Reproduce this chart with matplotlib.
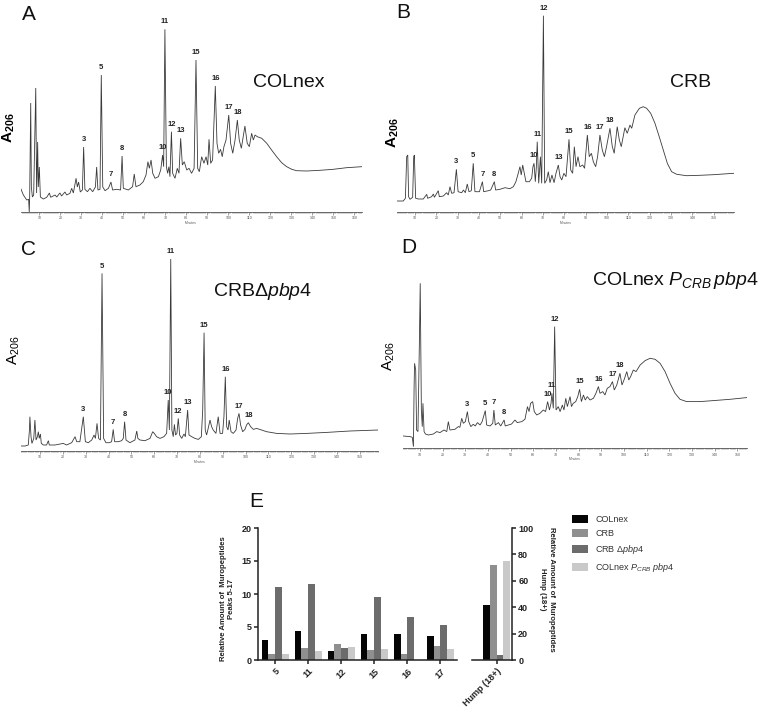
import numpy as np
import matplotlib
matplotlib.use("Agg")
import matplotlib.pyplot as plt
from matplotlib.ticker import MultipleLocator

plt.rcParams['font.family'] = ['Liberation Sans', 'DejaVu Sans']
plt.rcParams['mathtext.fontset'] = 'custom'
plt.rcParams['mathtext.rm'] = 'Liberation Sans'
plt.rcParams['mathtext.it'] = 'Liberation Sans:italic'
plt.rcParams['mathtext.bf'] = 'Liberation Sans:bold'

# ---------------- chromatogram data: (minutes, absorbance [a.u.]) ----------------
trace_a = [(1.1, 23.7), (2.4, 17), (4.0, 12), (4.9, 12.7), (5.2, 0), (5.4, 15), (5.9, 109), (6.2, 25),
           (6.7, 15), (7.3, 17), (8.3, 124), (8.7, 19), (9.2, 70), (9.5, 25), (10.0, 45), (10.5, 15),
           (11.9, 13), (13.5, 14.7), (14.8, 19), (15.4, 14.7), (17.5, 17), (18.3, 15), (19.8, 19),
           (20.6, 16), (22.2, 20), (23.0, 17), (24.6, 18.7), (25.4, 23.7), (26.2, 19), (27.5, 33.7),
           (28.1, 25), (28.7, 30), (29.5, 20), (30.5, 22), (31.1, 65), (31.7, 22.7), (32.9, 20.3),
           (34.1, 23.7), (35.4, 20.3), (36.7, 25), (37.3, 45), (37.9, 22), (38.9, 22.7), (39.5, 137),
           (40.2, 25), (41.3, 21.3), (42.9, 23.7), (44.1, 30), (44.9, 22), (46.8, 22.7), (48.7, 22),
           (49.4, 56), (50.0, 23.7), (52.4, 22), (54.4, 25.3), (55.2, 38), (56.0, 25.3), (57.9, 27),
           (59.5, 30.3), (60.8, 37), (61.7, 50.3), (62.4, 43.7), (63.2, 52), (64.0, 38.7), (65.1, 33.7),
           (66.7, 35.3), (67.8, 42), (68.7, 57), (69.2, 45.3), (69.8, 182.7), (70.5, 45.3), (71.1, 38.7),
           (71.7, 45.3), (72.2, 35.3), (72.9, 80.3), (73.5, 38.7), (74.6, 33.7), (75.7, 43.7),
           (76.5, 38.7), (77.3, 73.7), (78.1, 47), (79.0, 50.3), (80.2, 42), (81.3, 43.7), (82.5, 38.7),
           (83.7, 43.7), (84.6, 152), (85.4, 43.7), (86.2, 40.3), (87.3, 55.3), (88.4, 48.7),
           (89.4, 55.3), (90.2, 47), (90.8, 72.7), (91.6, 48.7), (92.5, 52), (93.8, 126), (94.6, 68.7),
           (95.4, 58.7), (96.3, 62.7), (97.1, 55.3), (97.9, 65.3), (98.9, 72), (100.2, 97),
           (101.1, 68.7), (102.1, 58.7), (103.2, 72), (104.3, 92), (105.2, 72), (106.2, 63.7),
           (107.9, 86), (109.0, 68.7), (110.0, 65.3), (111.1, 78.7), (111.9, 72), (112.7, 77),
           (113.8, 75.3), (115.9, 73.7), (118.3, 68.7), (120.6, 62), (123.0, 55.3), (125.4, 49.3),
           (127.8, 45.3), (130.2, 42.7), (132.5, 41.3), (137.3, 41), (143.7, 41.7), (150.0, 42.7),
           (156.3, 44.3), (163.5, 45.3)]
peaks_a_labels = ['3', '5', '7', '8', '10', '11', '12', '13', '15', '16', '17', '18']
peaks_a_times = [31.1, 39.5, 44.1, 49.4, 68.7, 69.8, 72.9, 77.3, 84.6, 93.8, 100.2, 104.3]

trace_b = [(1.7, 11), (4.5, 11), (5.5, 13.7), (6.1, 55.3), (6.6, 57), (7.0, 15.3), (7.7, 12.7),
           (8.9, 14.7), (9.4, 55.3), (9.7, 57), (10.3, 13.7), (11.6, 13), (13.9, 13), (15.5, 17.7),
           (15.9, 13.7), (17.8, 15.3), (18.6, 18), (19.1, 14.7), (20.9, 21.3), (21.4, 15.3), (23.3, 16),
           (24.8, 19.3), (25.6, 17), (26.4, 25.3), (27.2, 18.7), (28.3, 19.3), (29.4, 42.7), (30.2, 20.3),
           (31.9, 19.3), (32.7, 22), (33.6, 19.3), (34.5, 28), (35.3, 20.3), (36.4, 21.3), (37.3, 48.7),
           (38.1, 20.3), (40.2, 20.3), (41.6, 30.3), (42.2, 20.3), (44.4, 21.3), (45.5, 22), (47.2, 30.3),
           (47.8, 22), (49.8, 22.7), (52.2, 24.3), (54.5, 23.3), (56.1, 25.3), (57.3, 30.3), (58.4, 38.7),
           (59.2, 45.3), (59.8, 37), (60.5, 47), (61.1, 40.3), (62.0, 30.3), (63.6, 30.3), (64.7, 33.7),
           (65.3, 45.3), (65.8, 48.7), (66.4, 30.3), (66.9, 45.3), (67.3, 70.3), (68.0, 28.7),
           (68.8, 55.3), (69.4, 28.7), (70.2, 196.3), (70.8, 28.7), (71.7, 32), (72.5, 40.3),
           (73.3, 29.3), (74.2, 37), (75.2, 29.3), (76.1, 38.7), (77.2, 47), (78.0, 35.3), (78.8, 32),
           (79.8, 38.7), (80.8, 35.3), (82.2, 72.7), (83.0, 42), (83.9, 38.7), (84.7, 65.3), (85.5, 45.3),
           (86.4, 55.3), (87.3, 45.3), (88.6, 47), (89.5, 43.7), (90.8, 77), (91.7, 55.3), (92.7, 58.7),
           (93.6, 50.3), (94.7, 45.3), (95.6, 55.3), (96.7, 77), (97.8, 62), (98.8, 55.3), (99.8, 65.3),
           (101.4, 83.7), (102.5, 65.3), (103.4, 58.7), (104.8, 85.3), (105.8, 72), (106.7, 65.3),
           (108.4, 84.3), (109.5, 78.7), (110.8, 87), (111.6, 83.7), (113.1, 97), (115.2, 103.7),
           (117.0, 105.3), (118.6, 103.7), (120.5, 98.7), (122.5, 88.7), (124.5, 75.3), (126.4, 62),
           (128.3, 48.7), (130.3, 40.3), (132.7, 37.7), (137.3, 36.3), (143.6, 36.7), (149.8, 37.3),
           (159.5, 38.7)]
peaks_b_labels = ['3', '5', '7', '8', '10', '11', '12', '13', '15', '16', '17', '18']
peaks_b_times = [29.4, 37.3, 41.6, 47.2, 65.8, 67.3, 70.2, 77.2, 82.2, 90.8, 96.7, 101.4]

trace_c = [(1.5, 4.7), (3.4, 4.7), (4.8, 5.7), (5.3, 20.7), (5.5, 34), (6.0, 14), (6.4, 7.3), (7.2, 12.3),
           (7.7, 30.7), (8.2, 10.7), (8.8, 14), (9.2, 19), (9.6, 12.3), (10.1, 16.7), (10.5, 7.3),
           (11.4, 5.7), (12.8, 5.7), (13.6, 10), (14.0, 5.7), (16.5, 5.7), (20.1, 7.3), (21.6, 5.7),
           (23.8, 8), (25.3, 14), (26.0, 9), (27.4, 9), (28.9, 34), (29.8, 9), (31.1, 8), (32.6, 10.7),
           (33.6, 15.7), (34.2, 12.3), (34.9, 27.3), (35.6, 12.3), (36.4, 10.7), (37.1, 177.3),
           (37.8, 12.3), (38.8, 8), (40.3, 8), (41.3, 9), (42.0, 21.3), (42.6, 9), (44.2, 9), (45.7, 10),
           (46.4, 12.3), (47.0, 29), (47.6, 10.7), (49.3, 8), (51.5, 10.7), (52.3, 19.7), (52.8, 12.3),
           (53.7, 10.7), (55.9, 10), (58.1, 12.3), (59.3, 19), (60.0, 17.3), (61.0, 14), (62.5, 12.3),
           (64.2, 14), (65.4, 17.3), (66.1, 50.7), (66.6, 20.7), (67.2, 191.7), (67.7, 20.7), (68.3, 14),
           (68.8, 26.3), (69.3, 15.7), (69.9, 17.3), (70.5, 32.3), (71.1, 15.7), (72.0, 12.3),
           (73.0, 16.7), (73.6, 14), (74.6, 40.7), (75.2, 15.7), (76.4, 14), (77.8, 12.3), (79.3, 11.3),
           (80.6, 14), (81.2, 40.7), (81.8, 118), (82.3, 20.7), (82.9, 15.7), (83.6, 22.3), (84.4, 30.7),
           (85.1, 24), (85.8, 20.7), (87.0, 17.3), (88.0, 34), (88.8, 17.3), (89.9, 17.3), (90.5, 34),
           (91.1, 74), (91.7, 24), (92.3, 20.7), (92.8, 30.7), (93.6, 19), (94.6, 17.3), (95.8, 20.7),
           (96.5, 32.3), (97.1, 37.3), (97.8, 25.7), (98.7, 19), (99.7, 21.3), (100.4, 25.7), (101.2, 28),
           (102.2, 24), (103.4, 21.3), (104.8, 22.3), (107.0, 20.7), (109.2, 19), (113.6, 17.3),
           (119.4, 16.7), (126.7, 17.3), (135.5, 18.3), (145.7, 19.7), (158.1, 20.7)]
peaks_c_labels = ['3', '5', '7', '8', '10', '11', '12', '13', '15', '16', '17', '18']
peaks_c_times = [28.9, 37.1, 42.0, 47.0, 66.1, 67.2, 70.5, 74.6, 81.8, 91.1, 97.1, 101.2]

trace_d = [(2.6, 12.3), (5.6, 11.7), (6.6, 11), (7.1, 1.7), (7.4, 61.7), (7.6, 85), (8.1, 78.3),
           (8.5, 18.3), (9.1, 16.7), (9.7, 101.7), (10.1, 165), (10.6, 38.3), (11.0, 21.7), (11.3, 45),
           (11.8, 16.7), (12.4, 14.3), (13.7, 13.3), (15.9, 14.3), (17.4, 16.7), (18.8, 15.7),
           (20.6, 18.3), (21.8, 16.7), (22.5, 26.7), (23.2, 18.3), (25.4, 19), (26.9, 21.7), (27.6, 21),
           (28.4, 30), (29.1, 25), (30.0, 26.7), (30.9, 36.7), (31.5, 26.7), (32.4, 21.7), (33.5, 24),
           (34.4, 22.3), (35.3, 25.7), (36.5, 23.3), (37.4, 26.7), (38.8, 37.7), (39.4, 23.3),
           (40.9, 22.3), (42.1, 25), (42.6, 38.3), (43.2, 23.3), (44.6, 25.7), (45.6, 22.3), (47.1, 28.3),
           (47.6, 22.3), (49.0, 23.3), (50.4, 24.3), (51.9, 28.3), (52.9, 25.7), (54.9, 26.7),
           (56.3, 29), (57.4, 41.7), (58.1, 36.7), (58.8, 45), (59.7, 46.7), (60.4, 36.7), (61.5, 33.3),
           (62.9, 35), (64.4, 38.3), (65.4, 36.7), (66.3, 46.7), (67.1, 38.3), (67.8, 45), (68.2, 55),
           (68.8, 40), (69.4, 121.7), (70.0, 38.3), (71.0, 41.7), (71.8, 36.7), (72.8, 43.3),
           (73.5, 38.3), (74.3, 50), (75.0, 41.7), (76.2, 51.7), (76.8, 41.7), (77.6, 45), (78.7, 46.7),
           (79.6, 51.7), (80.4, 59), (81.2, 46.7), (82.1, 53.3), (82.9, 48.3), (83.8, 51.7), (85.0, 48.3),
           (86.5, 50), (87.6, 55), (88.7, 61.7), (89.4, 55), (90.6, 56.7), (91.6, 53.3), (92.6, 60),
           (93.8, 61.7), (94.9, 66.7), (95.7, 58.3), (96.8, 63.3), (98.2, 75), (99.1, 63.3), (100.1, 69),
           (101.2, 76.7), (102.1, 68.3), (102.9, 71.7), (104.1, 78.3), (105.3, 76.7), (107.1, 83.3),
           (109.3, 87.7), (111.5, 90), (113.7, 89), (115.9, 85), (118.1, 76.7), (120.3, 65), (122.5, 55),
           (124.7, 49), (127.6, 46.7), (133.5, 46.7), (139.4, 47.7), (146.8, 49), (154.1, 50.7)]
peaks_d_labels = ['3', '5', '7', '8', '10', '11', '12', '15', '16', '17', '18']
peaks_d_times = [30.9, 38.8, 42.6, 47.1, 66.3, 68.2, 69.4, 80.4, 88.7, 94.9, 98.2]

# ---------------- bar chart data ----------------
strains = ['COLnex', 'CRB', r'CRB $\Delta\mathit{pbp4}$', r'COLnex $\mathit{P_{CRB}}$ $\mathit{pbp4}$']
peak_cats = ['5', '11', '12', '15', '16', '17']
colnex_vals = [3.1, 4.4, 1.4, 4.0, 4.0, 3.7]
crb_vals = [0.85, 1.85, 2.5, 1.5, 0.9, 2.1]
crb_dpbp4_vals = [11.1, 11.45, 1.85, 9.5, 6.5, 5.3]
colnex_pcrb_vals = [0.85, 1.4, 2.0, 1.6, 0.0, 1.7]
hump_cat = ['Hump (18+)']
hump_vals = [42, 72, 4, 75]
bar_colors = ['#050505', '#8f8f8f', '#6c6c6c', '#c9c9c9']

W, H = 760, 712
fig = plt.figure(figsize=(W / 100, H / 100), dpi=100)
fig.patch.set_facecolor('white')


def px_axes(l, r, t, b):
    return fig.add_axes([l / W, 1 - b / H, (r - l) / W, (b - t) / H])


def ftext(x, y, s, **kw):
    return fig.text(x / W, 1 - y / H, s, **kw)


def chrom(trace, labels, ptimes, x0, scale, base, top, xmax_lim):
    t, h = np.array(trace).T
    xmin, xmax = t[0], xmax_lim
    ax = px_axes(x0 + scale * xmin, x0 + scale * xmax, top, base)
    ax.plot(t, h, color='#3a3a3a', lw=0.6, solid_joinstyle='miter')
    ax.set_xlim(xmin, xmax)
    ax.set_ylim(0, base - top)
    for s in ['left', 'top', 'right']:
        ax.spines[s].set_visible(False)
    ax.spines['bottom'].set_color('#555555')
    ax.spines['bottom'].set_linewidth(0.6)
    ax.set_yticks([])
    ax.xaxis.set_major_locator(MultipleLocator(10))
    ax.xaxis.set_minor_locator(MultipleLocator(1))
    ax.tick_params(axis='x', which='major', length=2.2, width=0.4, color='#555555',
                   labelsize=2.6, pad=1, labelcolor='#555555')
    ax.tick_params(axis='x', which='minor', length=1.3, width=0.35, color='#555555')
    ax.set_xticks([v for v in range(10, int(xmax) + 1, 10)])
    ax.set_xlabel('Minutes', fontsize=2.4, labelpad=0.5, color='#555555')
    ax.patch.set_alpha(0)
    ph = np.interp(ptimes, t, h)
    for lab, pt, hv in zip(labels, ptimes, ph):
        ax.annotate(lab, (pt, hv), xytext=(0, 5.3), textcoords='offset points',
                    ha='center', va='center', fontsize=5.5, fontweight='bold',
                    color='#222222', annotation_clip=False)
    return ax


chrom(trace_a, peaks_a_labels, peaks_a_times, 18.33, 2.1, 212, 14, 163.5)
chrom(trace_b, peaks_b_labels, peaks_b_times, 393.67, 2.133, 212, 10, 159.5)
chrom(trace_c, peaks_c_labels, peaks_c_times, 17.33, 2.283, 450.7, 245, 158.1)
chrom(trace_d, peaks_d_labels, peaks_d_times, 397.33, 2.267, 448.3, 245, 154.1)

# panel letters
for (x, y, s) in [(22, 20, 'A'), (396, 18, 'B'), (21, 255, 'C'), (401, 253, 'D'), (249, 507, 'E')]:
    ftext(x, y, s, fontsize=15, va='baseline', ha='left', color='#111111')

# sample names
ftext(253, 87, 'COLnex', fontsize=14, va='baseline', ha='left', color='#111111')
ftext(670, 87, 'CRB', fontsize=14, va='baseline', ha='left', color='#111111')
ftext(213, 296, r'CRB$\Delta\mathit{pbp4}$', fontsize=14, va='baseline', ha='left', color='#111111')
ftext(592, 285, r'COLnex $\mathit{P_{CRB}\,pbp4}$', fontsize=14, va='baseline', ha='left',
      color='#111111')

# A206 axis labels
ftext(9, 128, r'$\mathbf{A_{206}}$', fontsize=11, rotation=90, ha='center', va='center')
ftext(393, 133, r'$\mathbf{A_{206}}$', fontsize=11, rotation=90, ha='center', va='center')
ftext(14, 350, r'$\mathrm{A_{206}}$', fontsize=11, rotation=90, ha='center', va='center')
ftext(389, 356, r'$\mathrm{A_{206}}$', fontsize=11, rotation=90, ha='center', va='center')

# ---------------- bar chart E ----------------
bw = 0.206
offsets = [-1.5 * bw, -0.5 * bw, 0.5 * bw, 1.5 * bw]
series = [colnex_vals, crb_vals, crb_dpbp4_vals, colnex_pcrb_vals]

axL = px_axes(258, 457, 528, 660)
x = np.arange(len(peak_cats))
handles = []
for vals, off, col, name in zip(series, offsets, bar_colors, strains):
    bars = axL.bar(x + off, vals, width=bw, color=col, edgecolor='none', label=name)
    handles.append(bars)
axL.set_xlim(-0.524, 5.506)
axL.set_ylim(0, 20)
axL.set_yticks([0, 5, 10, 15, 20])
axL.set_xticks(x)
axL.set_xticklabels(peak_cats, rotation=45, ha='right', rotation_mode='anchor')

axR = px_axes(471.7, 511.7, 528, 660)
for i, (v, off, col) in enumerate(zip(hump_vals, offsets, bar_colors)):
    axR.bar([0 + off], [v], width=bw, color=col, edgecolor='none')
axR.set_xlim(-0.758, 0.455)
axR.set_ylim(0, 100)
axR.set_yticks([0, 20, 40, 60, 80, 100])
axR.yaxis.tick_right()
axR.set_xticks([0])
axR.set_xticklabels(hump_cat, rotation=45, ha='right', rotation_mode='anchor')

for ax, keep in [(axL, ['left', 'bottom']), (axR, ['right', 'bottom'])]:
    for s in ['left', 'right', 'top', 'bottom']:
        ax.spines[s].set_visible(s in keep)
        ax.spines[s].set_linewidth(1.1)
        ax.spines[s].set_color('#222222')
    ax.tick_params(direction='out', length=3.2, width=1.1, color='#222222', labelsize=6.5,
                   pad=1.5, labelcolor='#222222')
    for lab in ax.get_xticklabels() + ax.get_yticklabels():
        lab.set_fontweight('bold')
    ax.patch.set_alpha(0)

ftext(227.5, 599, 'Relative Amount of  Muropeptides\nPeaks 5-17', fontsize=5.6, fontweight='bold',
      rotation=90, ha='center', va='center', linespacing=1.25, color='#222222')
ftext(547, 589, 'Relative Amount of  Muropeptides\nHump (18+)', fontsize=5.6, fontweight='bold',
      rotation=270, ha='center', va='center', linespacing=1.25, color='#222222')

fig.legend(handles, strains, loc='upper left', bbox_to_anchor=(572 / W, 1 - 515 / H),
           frameon=False, fontsize=6.5, handlelength=1.8, handleheight=1.0,
           handletextpad=0.8, labelspacing=0.55, borderpad=0, borderaxespad=0,
           labelcolor='#333333')

fig.savefig('out.png', dpi=100, facecolor='white')
